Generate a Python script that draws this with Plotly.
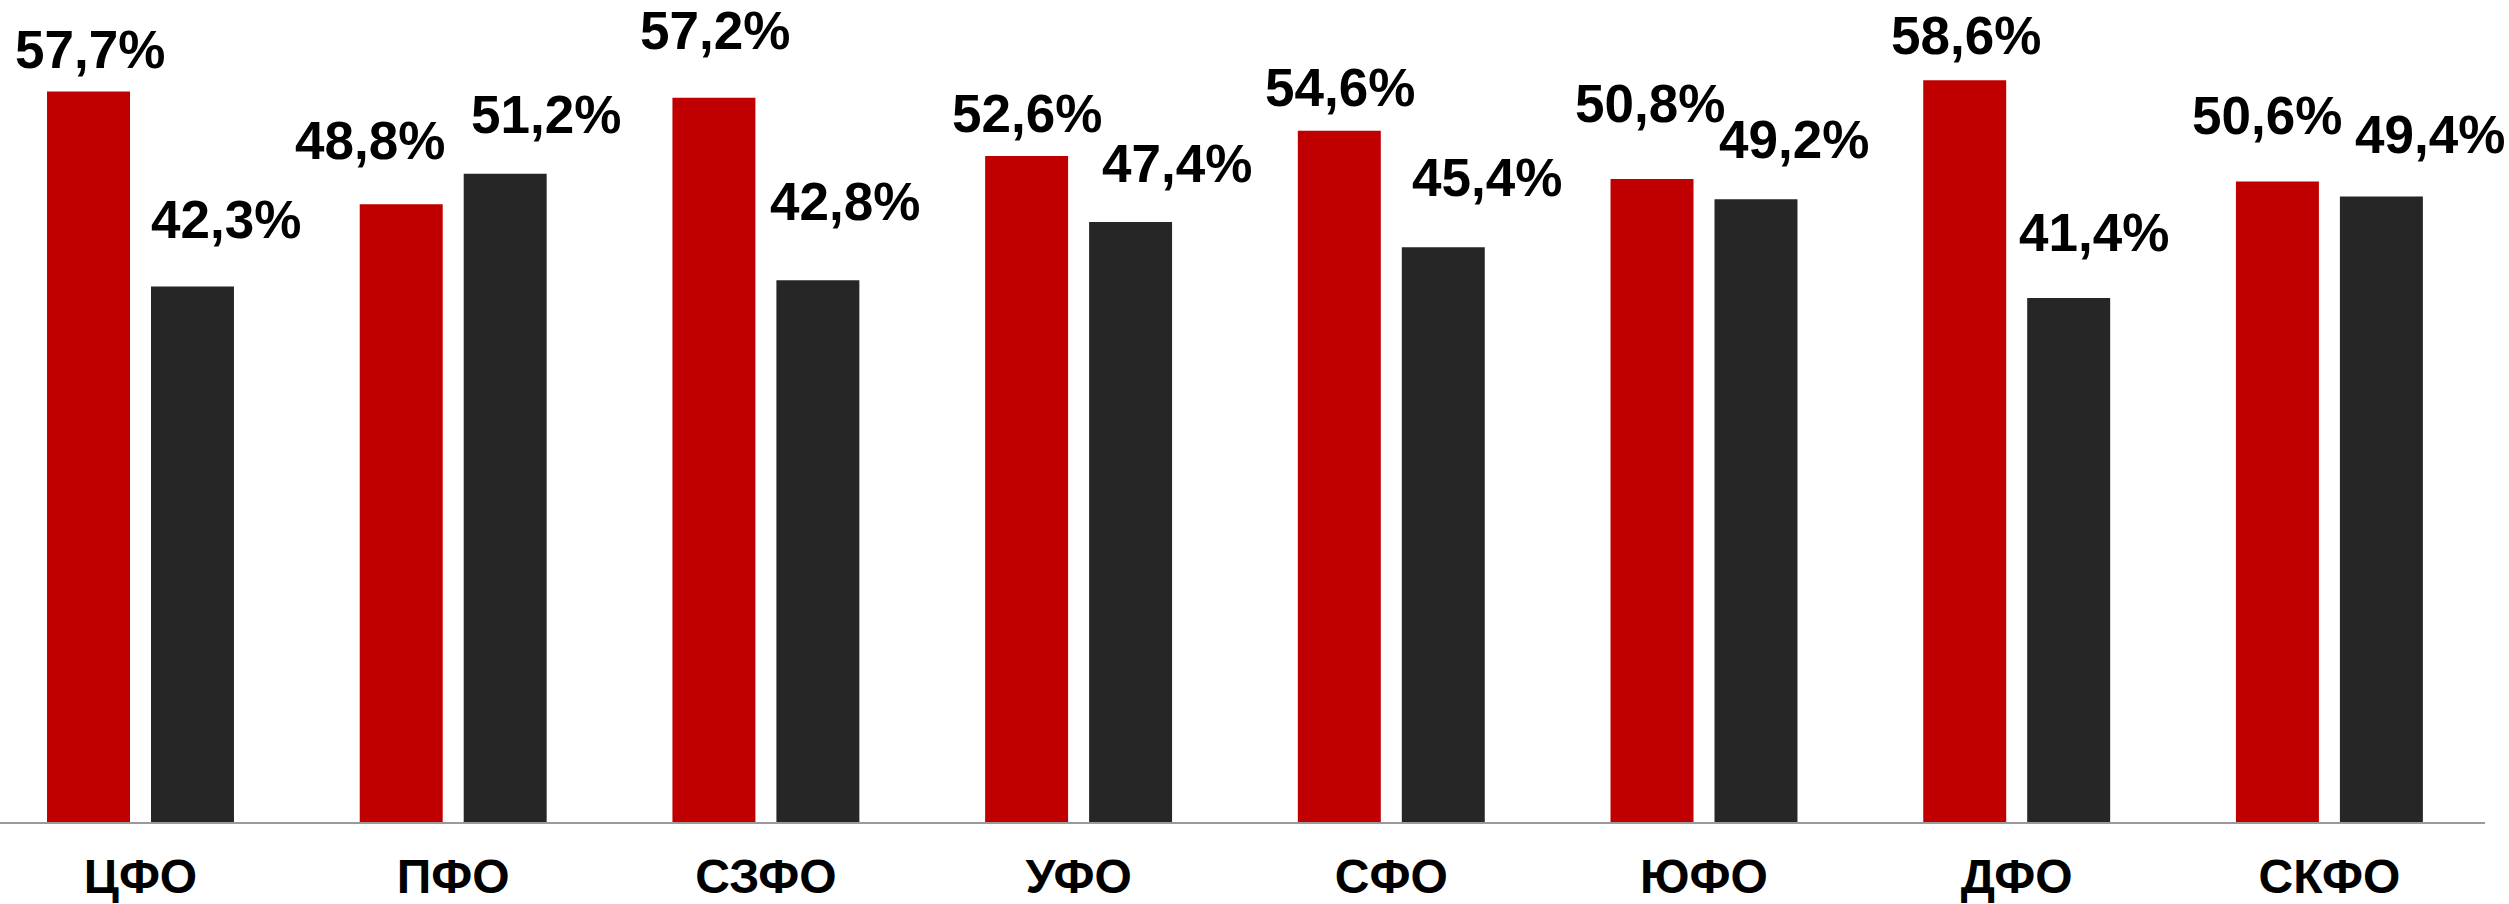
import plotly.graph_objects as go

categories = ["ЦФО", "ПФО", "СЗФО", "УФО", "СФО", "ЮФО", "ДФО", "СКФО"]
red_values = [57.7, 48.8, 57.2, 52.6, 54.6, 50.8, 58.6, 50.6]
dark_values = [42.3, 51.2, 42.8, 47.4, 45.4, 49.2, 41.4, 49.4]

# label nudges (pixels): horizontal offset from bar centre, baseline gap above bar top
red_label_dx = [1, -31, 1, 0, 1, -2, 1, -10]
red_label_gap = [22, 43, 47, 22, 23, 55, 24, 45]
dark_label_dx = [33, 41, 27, 46, 44, 38, 25, 49]
dark_label_gap = [46, 39, 58, 38, 49, 39, 45, 42]

RED = "#C00000"
DARK = "#262626"
BAR_HALF_PITCH = 52      # px from category centre to each bar centre
BASELINE_PAD = 11        # px between annotation box bottom and text baseline


def fmt(v):
    return f"{v:.1f}".replace(".", ",") + "%"


fig = go.Figure()
fig.add_trace(go.Bar(x=categories, y=red_values, marker_color=RED, marker_line_width=0, name="A"))
fig.add_trace(go.Bar(x=categories, y=dark_values, marker_color=DARK, marker_line_width=0, name="B"))

label_font = dict(family="Liberation Sans, Arial", size=53, color="black", weight="bold")
annotations = []
for cat, v, dx, gap in zip(categories, red_values, red_label_dx, red_label_gap):
    annotations.append(dict(x=cat, y=v, text=fmt(v), showarrow=False, xanchor="center", yanchor="bottom",
                            xshift=-BAR_HALF_PITCH + dx, yshift=gap - BASELINE_PAD, font=label_font))
for cat, v, dx, gap in zip(categories, dark_values, dark_label_dx, dark_label_gap):
    annotations.append(dict(x=cat, y=v, text=fmt(v), showarrow=False, xanchor="center", yanchor="bottom",
                            xshift=BAR_HALF_PITCH + dx, yshift=gap - BASELINE_PAD, font=label_font))

fig.update_layout(
    width=2509, height=904,
    margin=dict(l=0, r=24, t=0, b=82),
    paper_bgcolor="white", plot_bgcolor="white",
    barmode="group", bargap=0.335, bargroupgap=0.202,
    showlegend=False,
    annotations=annotations,
    xaxis=dict(range=[-0.4493, 7.4976], showline=True, linecolor="#9a9a9a", linewidth=2,
               ticks="", showgrid=False, zeroline=False, ticklabelstandoff=11,
               tickfont=dict(family="Liberation Sans, Arial", size=48, color="black", weight="bold")),
    yaxis=dict(range=[0, 64.93], visible=False, showgrid=False, zeroline=False),
)

post = "document.body.style.margin = '0';"
fig.write_html("out.html", post_script=post, config={"displayModeBar": False})
